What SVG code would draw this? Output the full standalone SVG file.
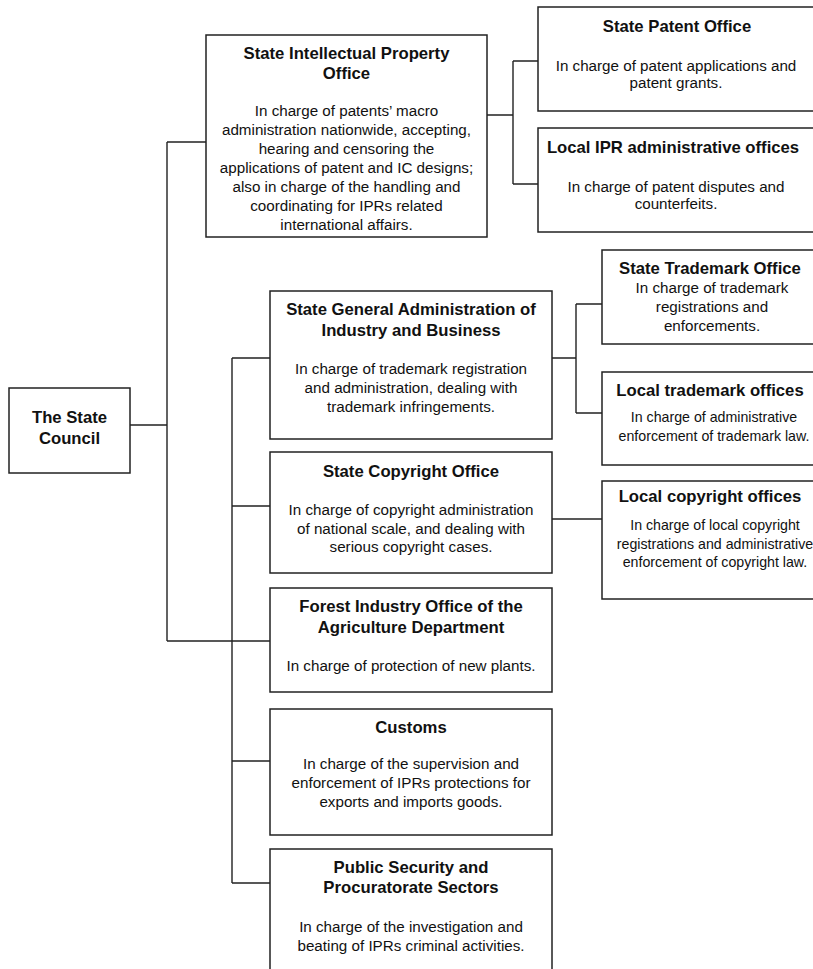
<svg xmlns="http://www.w3.org/2000/svg" width="813" height="969" viewBox="0 0 813 969">
<style>
.box{fill:#fff;stroke:#222;stroke-width:1.5}
.ln{fill:none;stroke:#222;stroke-width:1.4}
text{font-family:"Liberation Sans",Arial,Helvetica,sans-serif;fill:#111;text-anchor:middle}
.t{font-weight:bold;font-size:16.7px}
.b{font-size:15.2px}
.s{font-size:14.2px}
</style>
<rect width="813" height="969" fill="#fff"/>
<g id="connectors">
<path class="ln" d="M130 425H167M167 142V641M167 142H206M167 641H270"/>
<path class="ln" d="M232 358V883M232 358H270M232 506H270M232 761H270M232 883H270"/>
<path class="ln" d="M487 115H513M513 61V184M513 61H538M513 184H538"/>
<path class="ln" d="M552 358H576M576 304V413M576 304H602M576 413H602"/>
<path class="ln" d="M552 519H602"/>
</g>
<g id="state-council">
<rect class="box" x="9" y="388" width="121" height="85"/>
<text class="t" x="69.5" y="423">The State</text>
<text class="t" x="69.5" y="444">Council</text>
</g>
<g id="sipo">
<rect class="box" x="206" y="35" width="281" height="202"/>
<text class="t" x="346.5" y="59">State Intellectual Property</text>
<text class="t" x="346.5" y="79">Office</text>
<text class="b" x="346.5" y="116">In charge of patents’ macro</text>
<text class="b" x="346.5" y="135">administration nationwide, accepting,</text>
<text class="b" x="346.5" y="154">hearing and censoring the</text>
<text class="b" x="346.5" y="173">applications of patent and IC designs;</text>
<text class="b" x="346.5" y="192">also in charge of the handling and</text>
<text class="b" x="346.5" y="211">coordinating for IPRs related</text>
<text class="b" x="346.5" y="230">international affairs.</text>
</g>
<g id="state-patent-office">
<rect class="box" x="538" y="7" width="278" height="104"/>
<text class="t" x="677" y="32">State Patent Office</text>
<text class="b" x="676" y="71">In charge of patent applications and</text>
<text class="b" x="676" y="88">patent grants.</text>
</g>
<g id="local-ipr-offices">
<rect class="box" x="538" y="128" width="278" height="104"/>
<text class="t" x="673" y="153">Local IPR administrative offices</text>
<text class="b" x="676" y="192">In charge of patent disputes and</text>
<text class="b" x="676" y="209">counterfeits.</text>
</g>
<g id="saic">
<rect class="box" x="270" y="291" width="282" height="148"/>
<text class="t" x="411" y="315">State General Administration of</text>
<text class="t" x="411" y="336">Industry and Business</text>
<text class="b" x="411" y="374">In charge of trademark registration</text>
<text class="b" x="411" y="393">and administration, dealing with</text>
<text class="b" x="411" y="412">trademark infringements.</text>
</g>
<g id="state-trademark-office">
<rect class="box" x="602" y="250" width="220" height="94"/>
<text class="t" x="710" y="274">State Trademark Office</text>
<text class="b" x="712" y="293">In charge of trademark</text>
<text class="b" x="712" y="312">registrations and</text>
<text class="b" x="712" y="331">enforcements.</text>
</g>
<g id="local-trademark-offices">
<rect class="box" x="602" y="372" width="220" height="93"/>
<text class="t" x="710" y="396">Local trademark offices</text>
<text class="s" x="714" y="422">In charge of administrative</text>
<text class="s" x="714" y="441">enforcement of trademark law.</text>
</g>
<g id="state-copyright-office">
<rect class="box" x="270" y="452" width="282" height="121"/>
<text class="t" x="411" y="477">State Copyright Office</text>
<text class="b" x="411" y="515">In charge of copyright administration</text>
<text class="b" x="411" y="534">of national scale, and dealing with</text>
<text class="b" x="411" y="552">serious copyright cases.</text>
</g>
<g id="local-copyright-offices">
<rect class="box" x="602" y="481" width="220" height="118"/>
<text class="t" x="710" y="502">Local copyright offices</text>
<text class="s" x="715" y="530">In charge of local copyright</text>
<text class="s" x="715" y="549">registrations and administrative</text>
<text class="s" x="715" y="567">enforcement of copyright law.</text>
</g>
<g id="forest-office">
<rect class="box" x="270" y="588" width="282" height="104"/>
<text class="t" x="411" y="612">Forest Industry Office of the</text>
<text class="t" x="411" y="633">Agriculture Department</text>
<text class="b" x="411" y="671">In charge of protection of new plants.</text>
</g>
<g id="customs">
<rect class="box" x="270" y="709" width="282" height="126"/>
<text class="t" x="411" y="733">Customs</text>
<text class="b" x="411" y="769">In charge of the supervision and</text>
<text class="b" x="411" y="788">enforcement of IPRs protections for</text>
<text class="b" x="411" y="807">exports and imports goods.</text>
</g>
<g id="public-security">
<rect class="box" x="270" y="849" width="282" height="124"/>
<text class="t" x="411" y="873">Public Security and</text>
<text class="t" x="411" y="893">Procuratorate Sectors</text>
<text class="b" x="411" y="932">In charge of the investigation and</text>
<text class="b" x="411" y="951">beating of IPRs criminal activities.</text>
</g>
</svg>
